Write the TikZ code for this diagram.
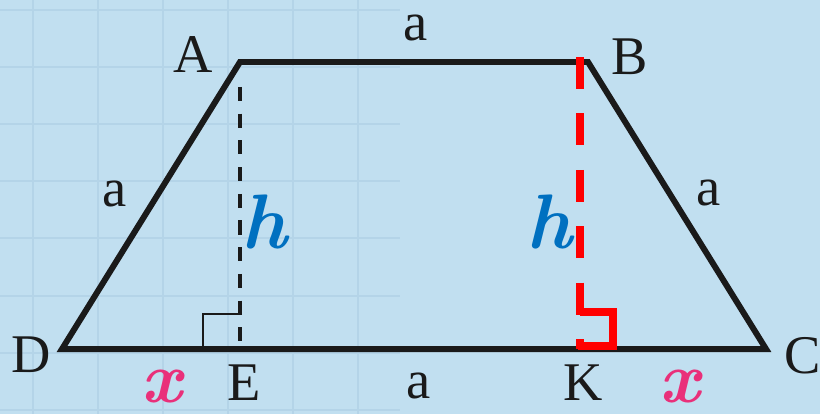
\documentclass[tikz,border=0pt]{standalone}
\usepackage{fontspec}
\setmainfont{Liberation Serif}
\newfontfamily\lmbi{Latin Modern Roman}

\definecolor{bgblue}{RGB}{193,223,240}
\definecolor{gridblue}{RGB}{180,212,232}
\definecolor{hblue}{RGB}{0,112,192}
\definecolor{xpink}{RGB}{233,48,122}
\definecolor{inkblack}{RGB}{26,26,26}

\begin{document}
\begin{tikzpicture}[
  x=0.02cm, y=-0.02cm,
  every node/.style={inner sep=0pt},
  side/.style={draw=inkblack, line width=3.4pt, line join=miter},
  height/.style={draw=inkblack, line width=2.8pt, dash pattern=on 8pt off 7.2pt},
  redheight/.style={draw=red, line width=4.4pt, dash pattern=on 18.2pt off 13.9pt},
  corner/.style={draw=inkblack, line width=1.4pt},
  redcorner/.style={draw=red, line width=4.4pt},
  gridline/.style={draw=gridblue, line width=1pt},
  vertex/.style={text=inkblack, font=\fontsize{31}{31}\selectfont},
  sidelabel/.style={text=inkblack, font=\fontsize{31}{31}\selectfont},
  hlabel/.style={text=hblue, font=\fontsize{44}{44}\lmbi\bfseries\itshape},
  xlabel/.style={text=xpink, font=\fontsize{41}{41}\lmbi\bfseries\itshape}]

  %% ---------------- background ----------------
  \fill[bgblue] (0,0) rectangle (820,414);
  \useasboundingbox (0,0) rectangle (820,414);
  % faint squared paper, only on the left part
  \foreach \gx in {33,98,163,228,293,358}
    \draw[gridline] (\gx,0) -- (\gx,414);
  \foreach \gy in {10,67,124,181,238,296,353,410}
    \draw[gridline] (0,\gy) -- (400,\gy);

  %% ---------------- trapezoid ----------------
  % vertices
  \coordinate (A) at (240, 62);
  \coordinate (B) at (588, 62);
  \coordinate (C) at (766, 349);
  \coordinate (D) at (62, 349);
  \coordinate (E) at (240, 349);
  \coordinate (K) at (580, 349);
  \coordinate (Ktop) at (580, 57);
  % black height from A, with its right angle mark
  \draw[height, shorten <=14.2pt] (A) -- (E);
  \draw[corner] (203, 349) -- (203, 314) -- (240, 314);
  % sides
  \draw[side] (A) -- (B) -- (C) -- (D) -- cycle;
  % red height from B lies on top of the sides
  \draw[redheight] (Ktop) -- (K);
  \draw[redcorner] (580, 312) -- (613, 312) -- (613, 346) -- (578, 346);

  %% ---------------- labels ----------------
  % vertex names
  \node[vertex] (lA) at (193, 55) {A};
  \node[vertex] (lB) at (630, 57) {B};
  \node[vertex] (lC) at (803, 356) {C};
  \node[vertex] (lD) at (31, 355) {D};
  \node[vertex] (lE) at (244, 383) {E};
  \node[vertex] (lK) at (583, 383) {K};
  % side lengths
  \node[sidelabel] (aAB) at (416, 28) {a};
  \node[sidelabel] (aDA) at (115, 194) {a};
  \node[sidelabel] (aBC) at (709, 193) {a};
  \node[sidelabel] (aEK) at (419, 386) {a};
  % heights
  \node[hlabel] (hA) at (264, 222) {h};
  \node[hlabel] (hB) at (549, 222) {h};
  % the two equal pieces of the base
  \node[xlabel] (xD) at (162, 386) {x};
  \node[xlabel] (xC) at (680, 386) {x};

\end{tikzpicture}
\end{document}
